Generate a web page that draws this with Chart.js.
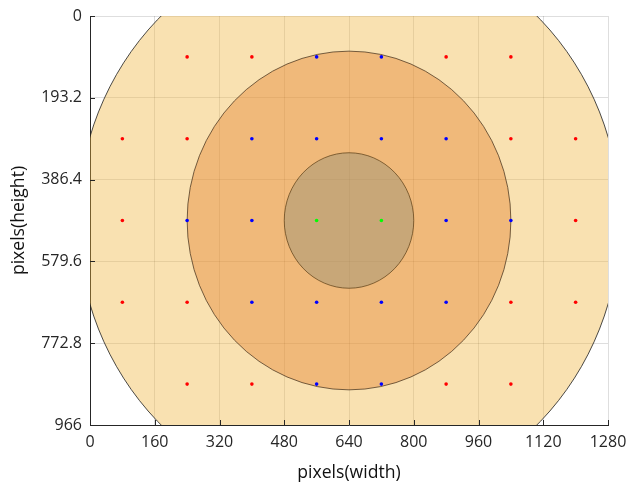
<!DOCTYPE html>
<html>
<head>
<meta charset="utf-8">
<script src="https://cdn.jsdelivr.net/npm/chart.js@4/dist/chart.umd.min.js"></script>
<style>
  html, body { margin: 0; padding: 0; background: #fff; }
  #wrap { width: 629px; height: 485px; }
</style>
</head>
<body>
<div id="wrap"><canvas id="pixelChart"></canvas></div>
<script>
// tick values
const xTicks = [0, 160, 320, 480, 640, 800, 960, 1120, 1280];
const yTicks = [0, 193.2, 386.4, 579.6, 772.8, 966];

// circles (outer, middle, inner)
const circleX = [640, 640, 640];
const circleY = [483, 483, 483];
const circleR = [670, 400, 160];
const circleFill = ["rgba(240,180,60,0.4)", "rgba(227,125,40,0.4)", "rgba(140,143,117,0.4)"];
const circleEdge = ["rgba(30,30,30,0.8)", "rgba(60,40,20,0.7)", "rgba(90,60,20,0.7)"];

// sample points
const redX = [240, 400, 880, 1040, 80, 240, 1040, 1200, 80, 1200, 80, 240, 1040, 1200, 240, 400, 880, 1040];
const redY = [96.6, 96.6, 96.6, 96.6, 289.8, 289.8, 289.8, 289.8, 483, 483, 676.2, 676.2, 676.2, 676.2, 869.4, 869.4, 869.4, 869.4];
const blueX = [560, 720, 400, 560, 720, 880, 240, 400, 880, 1040, 400, 560, 720, 880, 560, 720];
const blueY = [96.6, 96.6, 289.8, 289.8, 289.8, 289.8, 483, 483, 483, 483, 676.2, 676.2, 676.2, 676.2, 869.4, 869.4];
const greenX = [560, 720];
const greenY = [483, 483];

function toPoints(xs, ys) {
  return xs.map((x, i) => ({ x: x, y: ys[i] }));
}

// draws the circles with the chart scales, under the points
const circlePlugin = {
  id: "circles",
  beforeDatasetsDraw: (chart) => {
    const ctx = chart.ctx;
    const xs = chart.scales.x;
    const ys = chart.scales.y;
    const area = chart.chartArea;
    ctx.save();
    ctx.beginPath();
    ctx.rect(area.left, area.top, area.right - area.left, area.bottom - area.top);
    ctx.clip();
    for (let i = 0; i < circleR.length; i++) {
      const cx = xs.getPixelForValue(circleX[i]);
      const cy = ys.getPixelForValue(circleY[i]);
      const rx = Math.abs(xs.getPixelForValue(circleX[i] + circleR[i]) - cx);
      const ry = Math.abs(ys.getPixelForValue(circleY[i] + circleR[i]) - cy);
      ctx.beginPath();
      ctx.ellipse(cx, cy, rx, ry, 0, 0, Math.PI * 2);
      ctx.fillStyle = circleFill[i];
      ctx.fill();
      ctx.lineWidth = 1;
      ctx.strokeStyle = circleEdge[i];
      ctx.stroke();
    }
    ctx.restore();
  },
};

// small inward tick marks like matlab
const innerTicks = {
  id: "innerTicks",
  afterDraw: (chart) => {
    const ctx = chart.ctx;
    const area = chart.chartArea;
    ctx.save();
    ctx.strokeStyle = "#262626";
    ctx.lineWidth = 1;
    ctx.beginPath();
    xTicks.forEach((v) => {
      const px = Math.round(chart.scales.x.getPixelForValue(v)) + 0.5;
      ctx.moveTo(px, area.bottom);
      ctx.lineTo(px, area.bottom - 5);
    });
    yTicks.forEach((v) => {
      const py = Math.round(chart.scales.y.getPixelForValue(v)) + 0.5;
      ctx.moveTo(area.left, py);
      ctx.lineTo(area.left + 5, py);
    });
    ctx.stroke();
    ctx.restore();
  },
};

const ctxPixel = document.getElementById("pixelChart").getContext("2d");
const pixelChart = new Chart(ctxPixel, {
  type: "scatter",
  data: {
    datasets: [
      { data: toPoints(redX, redY), backgroundColor: "#ff0000", pointRadius: 1.8, borderWidth: 0 },
      { data: toPoints(blueX, blueY), backgroundColor: "#0000ff", pointRadius: 1.8, borderWidth: 0 },
      { data: toPoints(greenX, greenY), backgroundColor: "#00ff00", pointRadius: 1.8, borderWidth: 0 },
    ],
  },
  plugins: [circlePlugin, innerTicks],
  options: {
    responsive: true,
    maintainAspectRatio: false,
    animation: false,
    layout: { padding: { top: 16, right: 21, left: 0, bottom: 0 } },
    plugins: {
      legend: { display: false },
      tooltip: { enabled: false },
    },
    scales: {
      x: {
        type: "linear",
        min: 0,
        max: 1280,
        afterBuildTicks: (scale) => { scale.ticks = xTicks.map((v) => ({ value: v })); },
        afterFit: (scale) => {
          scale.height = 60;
          scale.paddingLeft = 0;
          scale.paddingRight = 0;
        },
        grid: { color: "rgba(0,0,0,0.13)", drawTicks: false },
        border: { color: "#262626", width: 1 },
        ticks: {
          padding: 8,
          color: "#262626",
          font: { family: "Open Sans", size: 16 },
          maxRotation: 0,
          callback: (v) => String(v),
        },
        title: {
          display: true,
          text: "pixels(width)",
          color: "#111",
          font: { family: "Open Sans", size: 17.6 },
          padding: { top: 0, bottom: 1 },
        },
      },
      y: {
        type: "linear",
        reverse: true,
        min: 0,
        max: 966,
        afterBuildTicks: (scale) => { scale.ticks = yTicks.map((v) => ({ value: v })); },
        afterFit: (scale) => {
          scale.width = 90;
          scale.paddingTop = 0;
          scale.paddingBottom = 0;
        },
        grid: { color: "rgba(0,0,0,0.13)", drawTicks: false },
        border: { color: "#262626", width: 1 },
        ticks: {
          padding: 8,
          color: "#262626",
          font: { family: "Open Sans", size: 16 },
          callback: (v) => String(v),
        },
        title: {
          display: true,
          text: "pixels(height)",
          color: "#111",
          font: { family: "Open Sans", size: 17.6 },
          padding: { top: 8, bottom: 0 },
        },
      },
    },
  },
});
</script>
</body>
</html>
